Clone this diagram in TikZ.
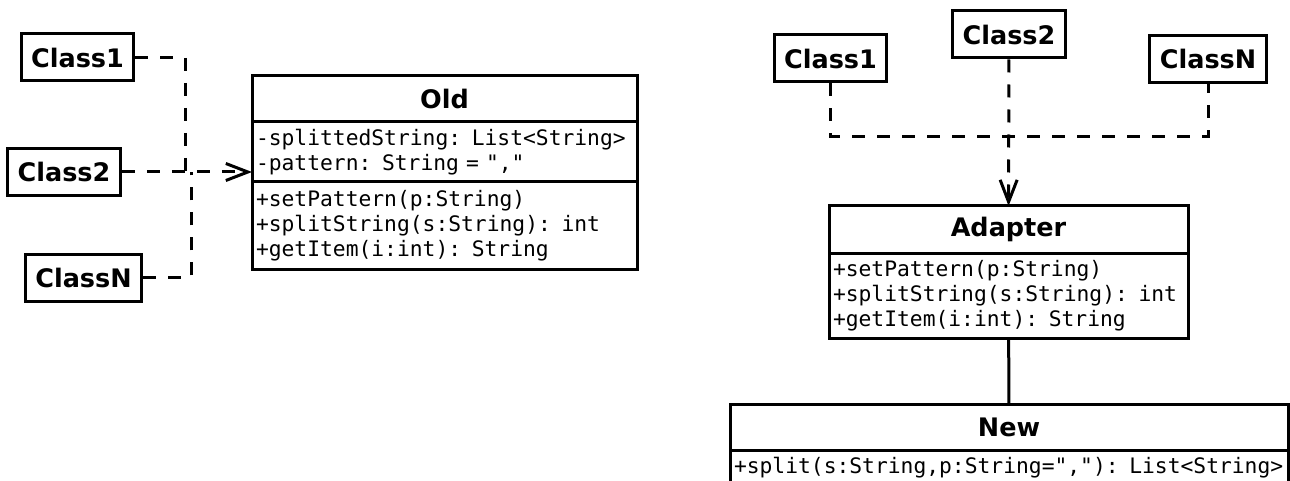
\documentclass[tikz,border=0pt]{standalone}
\usepackage{fontspec}
\setmainfont{DejaVu Sans}
\setmonofont{DejaVu Sans Mono}
\usetikzlibrary{arrows.meta,positioning}

\begin{document}
\begin{tikzpicture}[
  x=1pt, y=-1pt,
  line width=3pt,
  cls/.style={draw, inner sep=0pt, inner xsep=10pt, minimum height=47pt, font=\fontsize{25.5}{30}\selectfont\bfseries},
  umltitle/.style={draw, inner sep=0pt, outer sep=0pt, minimum width=#1, minimum height=46pt, font=\fontsize{25.5}{30}\selectfont\bfseries},
  umlpart/.style={draw, align=left, inner xsep=4pt, inner ysep=0pt, outer sep=0pt, text width=#1, font=\fontsize{21.3}{25}\selectfont\ttfamily},
  dep/.style={line width=3pt, dash pattern=on 13pt off 12pt},
  usearrow/.style={-{Straight Barb[length=22pt,width=17pt]}}
]
\clip (0,0) rectangle (1290,481);

% left: clients use Old directly
\node[cls] (lone) at (77.5,57.5) {Class1};
\node[cls] (ltwo) at (64,172) {Class2};
\node[cls] (lenn) at (83.5,277.5) {ClassN};

\node[umltitle=385pt] (old) at (444.5,99) {Old};
\node[umlpart=377pt, minimum height=60pt, below=0pt of old] (oldattr) {-splittedString: List<String>\\-pattern: String = ","};
\node[umlpart=377pt, minimum height=87pt, below=0pt of oldattr] (oldops) {+setPattern(p:String)\\+splitString(s:String): int\\+getItem(i:int): String};

\coordinate (ljoin) at (185,172);
\coordinate (ljoinn) at (191,172);

\draw[dep] (lone) -| (ljoin);
\draw[dep] (lenn) -| (ljoinn);
\draw[dep, usearrow] (ltwo) -- (ltwo -| oldattr.west);

% right: clients go through the Adapter
\node[cls] (rone) at (830.5,58.5) {Class1};
\node[cls] (rtwo) at (1009,34.5) {Class2};
\node[cls] (renn) at (1208,59) {ClassN};

\node[umltitle=359pt, minimum height=47pt] (adapter) at (1008.5,229.5) {Adapter};
\node[umlpart=351pt, minimum height=85pt, below=0pt of adapter] (adapterops) {+setPattern(p:String)\\+splitString(s:String): int\\+getItem(i:int): String};

\node[umltitle=558pt] (new) at (1009,427) {New};
\node[umlpart=550pt, minimum height=36pt, below=0pt of new] (newops) {+split(s:String,p:String=","): List<String>};

\coordinate (rbus) at (1008,137);

\draw[dep] (rone) |- (rbus) -| (renn);
\draw[dep, usearrow] (rtwo) -- (adapter);
\draw (adapterops) -- (new);
\end{tikzpicture}
\end{document}
